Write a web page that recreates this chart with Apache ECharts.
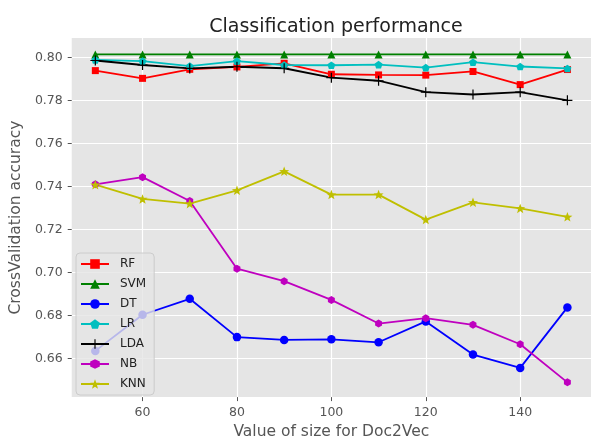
<!DOCTYPE html>
<html>
<head>
<meta charset="utf-8">
<script src="https://cdn.jsdelivr.net/npm/echarts@6/dist/echarts.min.js"></script>
<style>
html,body{margin:0;padding:0;background:#fff;}
#chart{width:591px;height:445px;}
</style>
</head>
<body>
<div id="chart"></div>
<script>
// Doc2Vec vector sizes (x)
var sizes = [50, 60, 70, 80, 90, 100, 110, 120, 130, 140, 150];
// CrossValidation accuracy per classifier
var RF  = [0.7938, 0.7902, 0.7944, 0.7955, 0.7972, 0.7921, 0.7918, 0.7917, 0.7934, 0.7873, 0.7943];
var SVM = [0.8013, 0.8013, 0.8013, 0.8013, 0.8013, 0.8013, 0.8013, 0.8013, 0.8013, 0.8013, 0.8013];
var DT  = [0.6636, 0.6804, 0.6878, 0.6700, 0.6687, 0.6690, 0.6676, 0.6773, 0.6619, 0.6557, 0.6838];
var LR  = [0.7988, 0.7982, 0.7959, 0.7982, 0.7964, 0.7963, 0.7966, 0.7952, 0.7977, 0.7957, 0.7948];
var LDA = [0.7985, 0.7964, 0.7948, 0.7956, 0.7949, 0.7905, 0.7891, 0.7838, 0.7827, 0.7838, 0.7800];
var NB  = [0.7410, 0.7443, 0.7332, 0.7018, 0.6960, 0.6873, 0.6763, 0.6788, 0.6757, 0.6667, 0.6490];
var KNN = [0.7408, 0.7342, 0.7320, 0.7382, 0.7470, 0.7362, 0.7362, 0.7246, 0.7326, 0.7298, 0.7259];
var names = ['RF', 'SVM', 'DT', 'LR', 'LDA', 'NB', 'KNN'];
var xTicks = [60, 80, 100, 120, 140];
var yTicks = [0.66, 0.68, 0.70, 0.72, 0.74, 0.76, 0.78, 0.80];

var values = [RF, SVM, DT, LR, LDA, NB, KNN];
var colors = ['#ff0000', '#008000', '#0000ff', '#00bfbf', '#000000', '#bf00bf', '#bfbf00'];

function poly(n, r0, r1, rot) {
  var pts = [];
  var m = r1 ? n * 2 : n;
  for (var i = 0; i < m; i++) {
    var r = (r1 && i % 2 === 1) ? r1 : r0;
    var a = (rot + i * 360 / m) * Math.PI / 180;
    pts.push((r * Math.cos(a)).toFixed(3) + ',' + (r * Math.sin(a)).toFixed(3));
  }
  return 'path://M' + pts.join('L') + 'Z';
}
var plusPath = 'path://M-0.12,-1L0.12,-1L0.12,-0.12L1,-0.12L1,0.12L0.12,0.12L0.12,1L-0.12,1L-0.12,0.12L-1,0.12L-1,-0.12L-0.12,-0.12Z';
var symbols = ['rect', 'triangle', 'circle', poly(5, 1, 0, -90), plusPath, poly(6, 1, 0, -90), poly(5, 1, 0.42, -90)];
var symSizes = [7, 8, 8.5, 8, 10, 8, 10];

var series = names.map(function (nm, k) {
  return {
    name: nm,
    type: 'line',
    data: sizes.map(function (s, i) { return [s, values[k][i]]; }),
    symbol: symbols[k],
    symbolSize: symSizes[k],
    symbolKeepAspect: true,
    showAllSymbol: true,
    lineStyle: { color: colors[k], width: 1.8 },
    itemStyle: { color: colors[k], borderWidth: 0 },
    emphasis: { disabled: true },
    animation: false
  };
});

var chart = echarts.init(document.getElementById('chart'), null, { renderer: 'canvas' });
chart.setOption({
  animation: false,
  backgroundColor: '#ffffff',
  title: {
    text: 'Classification performance',
    left: 331, top: 13, textAlign: 'center',
    textStyle: { fontFamily: 'DejaVu Sans', fontSize: 19, fontWeight: 'normal', color: '#222' }
  },
  grid: {
    left: 70, top: 38, width: 522.5, height: 367,
    show: true, backgroundColor: '#E5E5E5', borderWidth: 0
  },
  legend: {
    data: names,
    orient: 'vertical',
    left: 76, top: 253,
    itemWidth: 28, itemHeight: 12, itemGap: 8,
    padding: [5, 8, 5, 4],
    backgroundColor: 'rgba(229,229,229,0.8)',
    borderColor: '#cccccc', borderWidth: 1, borderRadius: 4,
    textStyle: { fontFamily: 'DejaVu Sans', fontSize: 12, color: '#222', padding: [0, 0, 0, 6] }
  },
  xAxis: {
    type: 'value', min: 45, max: 155,
    name: 'Value of size for Doc2Vec', nameLocation: 'middle', nameGap: 24,
    nameTextStyle: { fontFamily: 'DejaVu Sans', fontSize: 15.5, color: '#555' },
    axisLine: { show: false },
    axisTick: { show: true, customValues: xTicks, length: 4, lineStyle: { color: '#555' } },
    axisLabel: { customValues: xTicks, margin: 9, fontFamily: 'DejaVu Sans', fontSize: 12.5, color: '#555' },
    splitLine: { show: true, lineStyle: { color: '#ffffff', width: 1.2 } }
  },
  yAxis: {
    type: 'value', min: 0.64214, max: 0.80895,
    name: 'CrossValidation accuracy', nameLocation: 'middle', nameGap: 46, nameRotate: 90,
    nameTextStyle: { fontFamily: 'DejaVu Sans', fontSize: 15.5, color: '#555' },
    axisLine: { show: false },
    axisTick: { show: true, customValues: yTicks, length: 4, lineStyle: { color: '#555' } },
    axisLabel: {
      customValues: yTicks, margin: 9, fontFamily: 'DejaVu Sans', fontSize: 12.5, color: '#555',
      formatter: function (v) { return v.toFixed(2); }
    },
    splitLine: { show: true, lineStyle: { color: '#ffffff', width: 1.2 } }
  },
  series: series
});
</script>
</body>
</html>
